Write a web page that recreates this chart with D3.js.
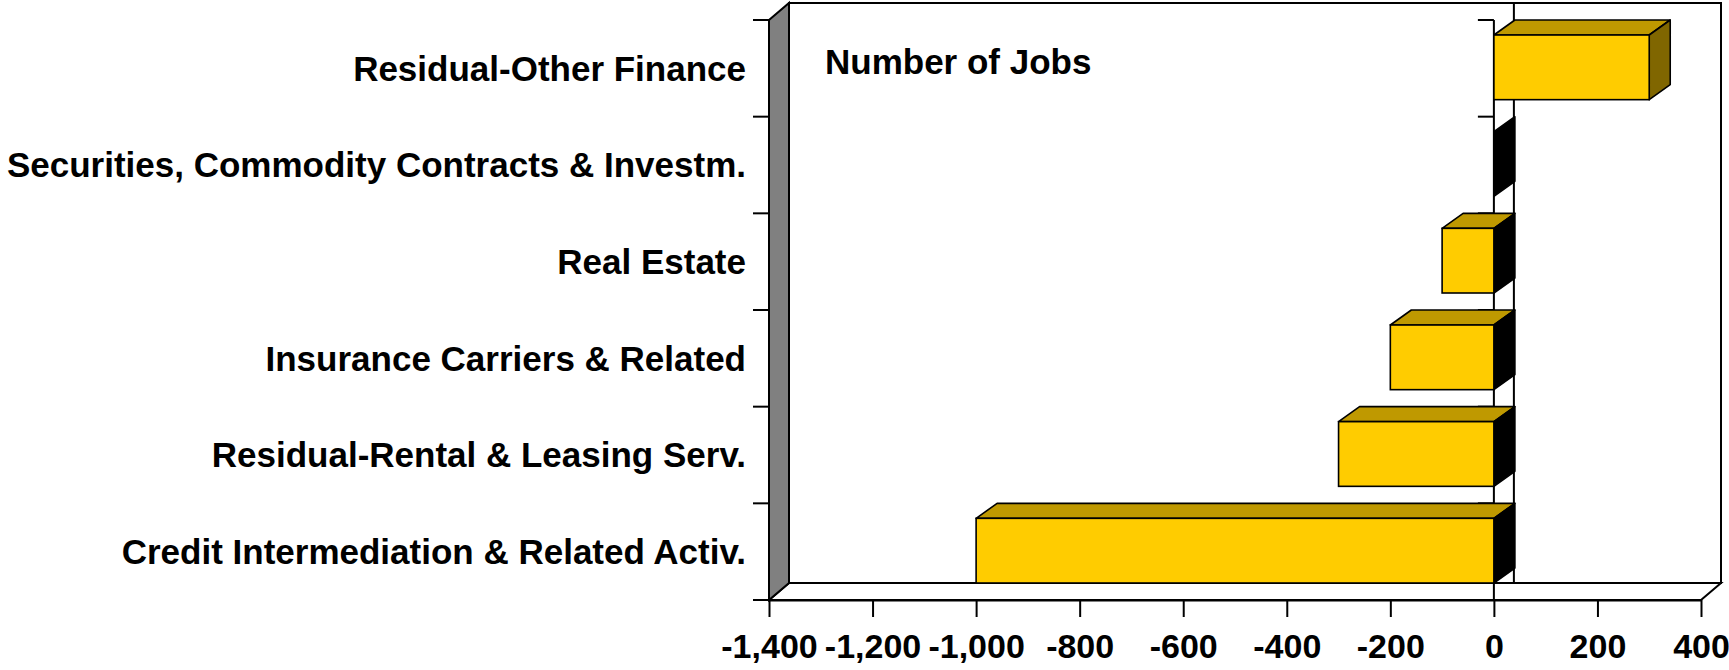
<!DOCTYPE html>
<html>
<head>
<meta charset="UTF-8">
<title>Number of Jobs</title>
<style>
    body { margin: 0; background: #fff; }
    svg text { font-family: "Liberation Sans", Arial, sans-serif; font-weight: bold; fill: #000; }
</style>
<script src="https://d3js.org/d3.v7.min.js"></script>
</head>
<body>
<div id="chart"></div>
<script>
    // data, top to bottom
    var categories = [
        "Residual-Other Finance",
        "Securities, Commodity Contracts & Investm.",
        "Real Estate",
        "Insurance Carriers & Related",
        "Residual-Rental & Leasing Serv.",
        "Credit Intermediation & Related Activ."
    ];
    var values = [300, 0, -100, -200, -300, -1000];
    var xTicks = [-1400, -1200, -1000, -800, -600, -400, -200, 0, 200, 400];
    var title = "Number of Jobs";

    var W = 1729, H = 670;
    var wallDx = 20, wallDy = 17;   // depth of the walls / floor
    var barDx = 21, barDy = 15;     // depth of the bars

    var svg = d3.select("#chart").append("svg")
        .attr("width", W)
        .attr("height", H);

    var x = d3.scaleLinear()
        .domain([-1400, 400])
        .range([769, 1701]);

    var y = d3.scaleBand()
        .domain(categories)
        .range([20, 600]);

    var x0 = x(0);
    var plotTop = y.range()[0], plotBottom = y.range()[1];
    var plotLeft = x.range()[0], plotRight = x.range()[1];
    var boundaries = categories.map(function(c) { return y(c); }).concat([plotBottom]);

    function pts(arr) { return arr.map(function(p) { return p.join(","); }).join(" "); }

    // back wall
    svg.append("rect")
        .attr("x", plotLeft + wallDx)
        .attr("y", plotTop - wallDy)
        .attr("width", plotRight - plotLeft)
        .attr("height", plotBottom - plotTop)
        .attr("fill", "#fff")
        .attr("stroke", "#000")
        .attr("stroke-width", 2);

    // floor
    svg.append("polygon")
        .attr("points", pts([[plotLeft, plotBottom], [plotLeft + wallDx, plotBottom - wallDy], [plotRight + wallDx, plotBottom - wallDy], [plotRight, plotBottom]]))
        .attr("fill", "#fff")
        .attr("stroke", "#000")
        .attr("stroke-width", 2);

    // left wall
    svg.append("polygon")
        .attr("points", pts([[plotLeft, plotTop], [plotLeft + wallDx, plotTop - wallDy], [plotLeft + wallDx, plotBottom - wallDy], [plotLeft, plotBottom]]))
        .attr("fill", "#808080")
        .attr("stroke", "#000")
        .attr("stroke-width", 2);

    // zero line on the back wall
    svg.append("line")
        .attr("x1", x0 + wallDx).attr("x2", x0 + wallDx)
        .attr("y1", plotTop - wallDy).attr("y2", plotBottom - wallDy)
        .attr("stroke", "#000").attr("stroke-width", 2);

    // category axes: one on the wall edge, one at zero
    [plotLeft, x0].forEach(function(ax) {
        svg.append("line")
            .attr("x1", ax).attr("x2", ax)
            .attr("y1", plotTop).attr("y2", plotBottom)
            .attr("stroke", "#000").attr("stroke-width", 2);
        svg.selectAll(null)
            .data(boundaries)
            .enter().append("line")
            .attr("x1", ax - 16).attr("x2", ax)
            .attr("y1", function(d) { return d; })
            .attr("y2", function(d) { return d; })
            .attr("stroke", "#000").attr("stroke-width", 2);
    });

    // x axis
    var fmt = d3.formatLocale({ decimal: ".", thousands: ",", grouping: [3], currency: ["", ""], minus: "-" }).format(",");
    var xAxis = svg.append("g")
        .attr("transform", "translate(0," + plotBottom + ")")
        .call(d3.axisBottom(x).tickValues(xTicks).tickFormat(fmt).tickSize(17).tickSizeOuter(0).tickPadding(15));
    xAxis.attr("font-family", null).attr("font-size", null);
    xAxis.select(".domain").attr("stroke-width", 2);
    xAxis.selectAll(".tick line").attr("stroke-width", 2);
    xAxis.selectAll(".tick text")
        .attr("font-size", "34px")
        .attr("dy", "0.76em");

    // bars
    var bars = svg.selectAll("g.bar")
        .data(categories.map(function(c, i) { return { cat: c, value: values[i] }; }))
        .enter().append("g")
        .attr("class", "bar");

    var barPadTop = 15, barPadBottom = 17;

    bars.each(function(d) {
        var g = d3.select(this);
        var y1 = y(d.cat) + barPadTop;
        var y2 = y(d.cat) + y.bandwidth() - barPadBottom;
        var xa = Math.min(x(d.value), x0);
        var xb = Math.max(x(d.value), x0);

        // top face
        if (xb > xa) {
            g.append("polygon")
                .attr("points", pts([[xa, y1], [xa + barDx, y1 - barDy], [xb + barDx, y1 - barDy], [xb, y1]]))
                .attr("fill", "#BF9900")
                .attr("stroke", "#000")
                .attr("stroke-width", 1.6)
                .attr("stroke-linejoin", "round");
        }
        // right side face
        g.append("polygon")
            .attr("points", pts([[xb, y1], [xb + barDx, y1 - barDy], [xb + barDx, y2 - barDy], [xb, y2]]))
            .attr("fill", d.value > 0 ? "#806600" : "#000")
            .attr("stroke", "#000")
            .attr("stroke-width", 1.6)
            .attr("stroke-linejoin", "round");
        // front face
        if (xb > xa) {
            g.append("rect")
                .attr("x", xa)
                .attr("y", y1)
                .attr("width", xb - xa)
                .attr("height", y2 - y1)
                .attr("fill", "#FFCC00")
                .attr("stroke", "#000")
                .attr("stroke-width", 1.6);
        }
    });

    // category labels
    svg.selectAll("text.cat")
        .data(categories)
        .enter().append("text")
        .attr("class", "cat")
        .attr("x", 746)
        .attr("y", function(d) { return y(d) + y.bandwidth() / 2; })
        .attr("dy", "0.35em")
        .attr("text-anchor", "end")
        .attr("font-size", "35px")
        .text(function(d) { return d; });

    // title
    svg.append("text")
        .attr("x", 825)
        .attr("y", 74)
        .attr("font-size", "35px")
        .text(title);
</script>
</body>
</html>
